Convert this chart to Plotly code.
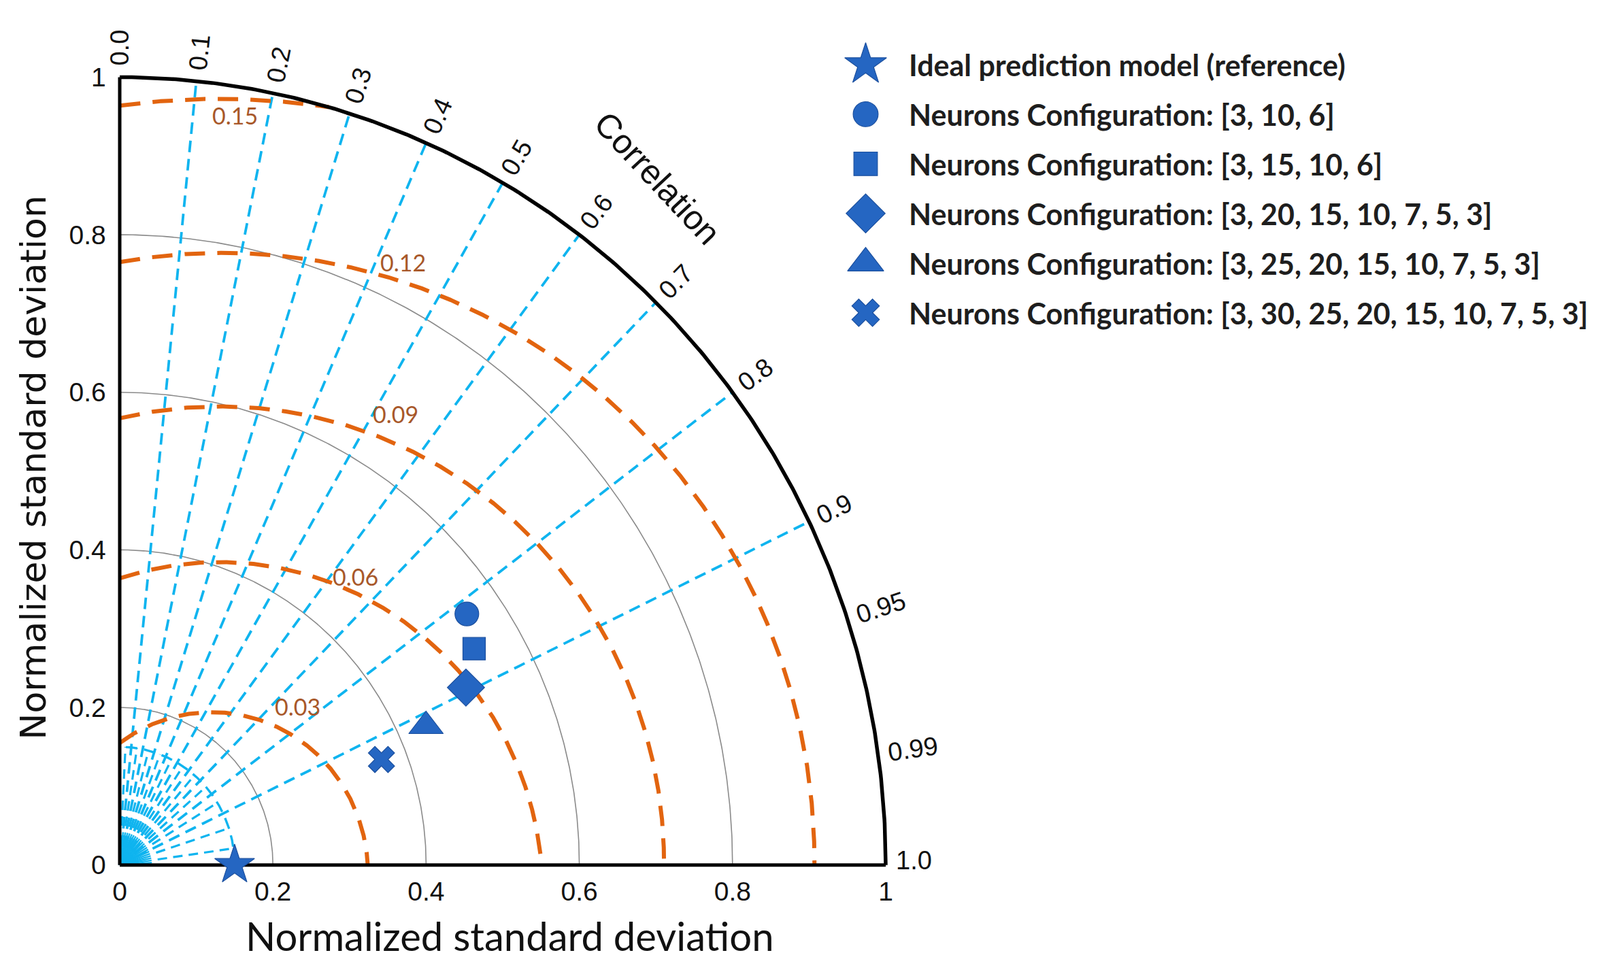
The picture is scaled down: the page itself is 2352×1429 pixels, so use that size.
import numpy as np
import plotly.graph_objects as go

# ---------------- data ----------------
series_names = [
    "Ideal prediction model (reference)",
    "Neurons Configuration: [3, 10, 6]",
    "Neurons Configuration: [3, 15, 10, 6]",
    "Neurons Configuration: [3, 20, 15, 10, 7, 5, 3]",
    "Neurons Configuration: [3, 25, 20, 15, 10, 7, 5, 3]",
    "Neurons Configuration: [3, 30, 25, 20, 15, 10, 7, 5, 3]",
]
series_std = [0.150, 0.554, 0.538, 0.505, 0.437, 0.367]
series_corr = [1.000, 0.818, 0.860, 0.895, 0.915, 0.931]
series_symbols = ["star", "circle", "square", "diamond", "triangle-up", "x"]

corr_tick_values = [0.0, 0.1, 0.2, 0.3, 0.4, 0.5, 0.6, 0.7, 0.8, 0.9, 0.95, 0.99, 1.0]
corr_tick_labels = ["0.0", "0.1", "0.2", "0.3", "0.4", "0.5", "0.6", "0.7", "0.8", "0.9", "0.95", "0.99", "1.0"]
corr_grid_values = [0.1, 0.2, 0.3, 0.4, 0.5, 0.6, 0.7, 0.8, 0.9]
corr_minor_values = [0.05, 0.15, 0.25, 0.35, 0.45, 0.55, 0.65, 0.75, 0.85, 0.95, 0.99]

std_tick_values = [0, 0.2, 0.4, 0.6, 0.8, 1.0]
std_tick_labels = ["0", "0.2", "0.4", "0.6", "0.8", "1"]
std_grid_values = [0.2, 0.4, 0.6, 0.8]
std_max = 1.0
ref_std = 0.15

rmsd_levels = ["0.03", "0.06", "0.09", "0.12", "0.15"]
rmsd_center_x = [0.120, 0.130, 0.131, 0.134, 0.130]
rmsd_center_y = [-0.010, -0.038, 0.0025, 0.004, 0.000]
rmsd_radii = [0.204, 0.4225, 0.5796, 0.773, 0.9725]

# ---------------- layout constants (pixels of the 2352x1429 canvas) ----------------
W, H = 2352, 1429
PX0, PXU = 168.0, 1126.0     # pixel of x=0, pixels per unit
PY0, PYU = 1271.5, 1174.7    # pixel of y=0, pixels per unit
PAD = 0.01
xdom = [(PX0 - PAD * PXU) / W, (PX0 + (1 + PAD) * PXU) / W]
ydom = [1 - (PY0 + PAD * PYU) / H, 1 - (PY0 - (1 + PAD) * PYU) / H]


def to_paper(x, y):
    return (PX0 + x * PXU) / W, 1 - (PY0 - y * PYU) / H


def pix_paper(px, py):
    return px / W, 1 - py / H


CYAN = "#0FB4EF"
ORANGE = "#E2640F"
BROWN = "#A8582A"
GRAY = "#8A8A8A"
BLUE = "#2566C2"
BLUE_EDGE = "#1B4F9E"

rmsd_label_angle = [62.0, 66.2, 68.1, 72.8, 88.75]
rmsd_label_offset = [0.035, 0.019, 0.035, 0.024, -0.021]

fig = go.Figure()


def add_line(xs, ys, color, width, dash=None):
    fig.add_trace(go.Scatter(x=xs, y=ys, mode="lines", hoverinfo="skip", showlegend=False,
                             line=dict(color=color, width=width, dash=dash)))


# gray std arcs
t = np.linspace(0, np.pi / 2, 300)
for r in std_grid_values:
    add_line(r * np.cos(t), r * np.sin(t), GRAY, 1.6)

# cyan correlation lines
xs, ys = [], []
for c in corr_grid_values:
    th = np.arccos(c)
    xs += [0, std_max * np.cos(th), None]
    ys += [0, std_max * np.sin(th), None]
add_line(xs, ys, CYAN, 3.8, "17px,10px")

# minor correlation lines near origin
xs, ys = [], []
for c in corr_minor_values:
    th = np.arccos(c)
    xs += [0.05 * np.cos(th), ref_std * np.cos(th), None]
    ys += [0.05 * np.sin(th), ref_std * np.sin(th), None]
add_line(xs, ys, CYAN, 3.2, "14px,9px")

xs, ys = [], []
for a in np.arange(4, 88, 4.0):
    th = np.radians(a)
    xs += [0.006 * np.cos(th), 0.042 * np.cos(th), None]
    ys += [0.006 * np.sin(th), 0.042 * np.sin(th), None]
add_line(xs, ys, CYAN, 2.4)

# cyan arc at reference std
add_line(ref_std * np.cos(t), ref_std * np.sin(t), CYAN, 3.4, "17px,10px")

# orange RMSD contours
tt = np.linspace(-0.3, np.pi + 0.3, 5000)
for cx0, cy0, r in zip(rmsd_center_x, rmsd_center_y, rmsd_radii):
    cx = cx0 + r * np.cos(tt)
    cy = cy0 + r * np.sin(tt)
    keep = (cx >= 0) & (cy >= 0) & (cx ** 2 + cy ** 2 <= std_max ** 2)
    add_line(cx[keep][::-1], cy[keep][::-1], ORANGE, 6, "30px,18px")

# outer arc and axes
add_line(std_max * np.cos(t), std_max * np.sin(t), "black", 5.5)
add_line([0, std_max], [0, 0], "black", 5)
add_line([0, 0], [0, std_max], "black", 5)

# data points
sizes = [44, 35, 33, 42, 44, 34]
for name, s, c, sym, sz in zip(series_names, series_std, series_corr, series_symbols, sizes):
    th = np.arccos(c)
    fig.add_trace(go.Scatter(
        x=[s * np.cos(th)], y=[s * np.sin(th)], mode="markers", name=name,
        cliponaxis=False, showlegend=False,
        marker=dict(symbol=sym, size=sz, color=BLUE, line=dict(color=BLUE_EDGE, width=1.2)),
    ))

# manual legend on its own pixel-based axes
LEG_X0 = 0.5
LEG_Y0 = 0.6
row_y0, row_dy = 78.0, 74.0
leg_marker_x, leg_text_x = 1264.5, 1325.5
for i, (name, sym, sz) in enumerate(zip(series_names, series_symbols, sizes)):
    fig.add_trace(go.Scatter(
        x=[leg_marker_x], y=[row_y0 + i * row_dy], xaxis="x2", yaxis="y2", mode="markers",
        showlegend=False, hoverinfo="skip", cliponaxis=False,
        marker=dict(symbol=sym, size=sz * 1.05, color=BLUE, line=dict(color=BLUE_EDGE, width=1.2)),
    ))
    fig.add_annotation(x=leg_text_x, y=row_y0 + i * row_dy + 1, xref="x2", yref="y2", text=name,
                       showarrow=False, xanchor="left", yanchor="middle",
                       font=dict(family="Lato", size=43, color="#1e1e1e", weight="bold"))

# correlation tick labels
LBL_SIZE = 38
for c, lab in zip(corr_tick_values, corr_tick_labels):
    th = np.arccos(c)
    half = (len(lab) - 0.5) * 0.556 * LBL_SIZE / 2 / 1145.0
    rr = std_max + 0.014 + half
    px_, py_ = to_paper(rr * np.cos(th), rr * np.sin(th) + (0.006 if c == 1.0 else 0.0))
    fig.add_annotation(x=px_, y=py_, xref="paper", yref="paper", text=lab,
                       showarrow=False, textangle=-np.degrees(th), xanchor="center", yanchor="middle",
                       font=dict(family="Liberation Sans", size=LBL_SIZE, color="#111111"))

# RMSD labels
for lab, cx0, cy0, r, ang, off in zip(rmsd_levels, rmsd_center_x, rmsd_center_y, rmsd_radii,
                                      rmsd_label_angle, rmsd_label_offset):
    a = np.radians(ang)
    fig.add_annotation(x=cx0 + (r + off) * np.cos(a), y=cy0 + (r + off) * np.sin(a),
                       xref="x", yref="y", text=lab, showarrow=False, xanchor="center", yanchor="middle",
                       font=dict(family="Lato", size=34, color=BROWN))

# titles
cx_, cy_ = pix_paper(958.2, 247.6)
fig.add_annotation(x=cx_, y=cy_, xref="paper", yref="paper", text="Correlation",
                   showarrow=False, textangle=47, xanchor="center", yanchor="middle",
                   font=dict(family="Liberation Sans", size=50, color="#111111"))
cx_, cy_ = pix_paper(741.5, 1376.8)
fig.add_annotation(x=cx_, y=cy_, xref="paper", yref="paper", text="Normalized standard deviation",
                   showarrow=False, xanchor="center", yanchor="middle",
                   font=dict(family="Lato", size=58, color="#111111"))
cx_, cy_ = pix_paper(41.9, 679.0)
fig.add_annotation(x=cx_, y=cy_, xref="paper", yref="paper", text="Normalized standard deviation",
                   showarrow=False, textangle=-90, xanchor="center", yanchor="middle",
                   font=dict(family="DejaVu Sans", size=52, color="#111111"))

fig.update_layout(
    width=W, height=H, margin=dict(l=0, r=0, t=0, b=0),
    paper_bgcolor="white", plot_bgcolor="rgba(0,0,0,0)", showlegend=False,
    xaxis=dict(domain=xdom, range=[-PAD, std_max + PAD], showgrid=False, zeroline=False, showline=False,
               tickvals=std_tick_values, ticktext=std_tick_labels, ticks="", ticklabelstandoff=1,
               tickfont=dict(family="Liberation Sans", size=39, color="#111111")),
    yaxis=dict(domain=ydom, range=[-PAD, std_max + PAD], showgrid=False, zeroline=False, showline=False,
               tickvals=std_tick_values, ticktext=std_tick_labels, ticks="", ticklabelstandoff=8,
               tickfont=dict(family="Liberation Sans", size=39, color="#111111")),
    xaxis2=dict(domain=[LEG_X0, 1], range=[LEG_X0 * W, W], visible=False, anchor="y2"),
    yaxis2=dict(domain=[LEG_Y0, 1], range=[(1 - LEG_Y0) * H, 0], visible=False, anchor="x2"),
)

fig.write_html("out.html")
